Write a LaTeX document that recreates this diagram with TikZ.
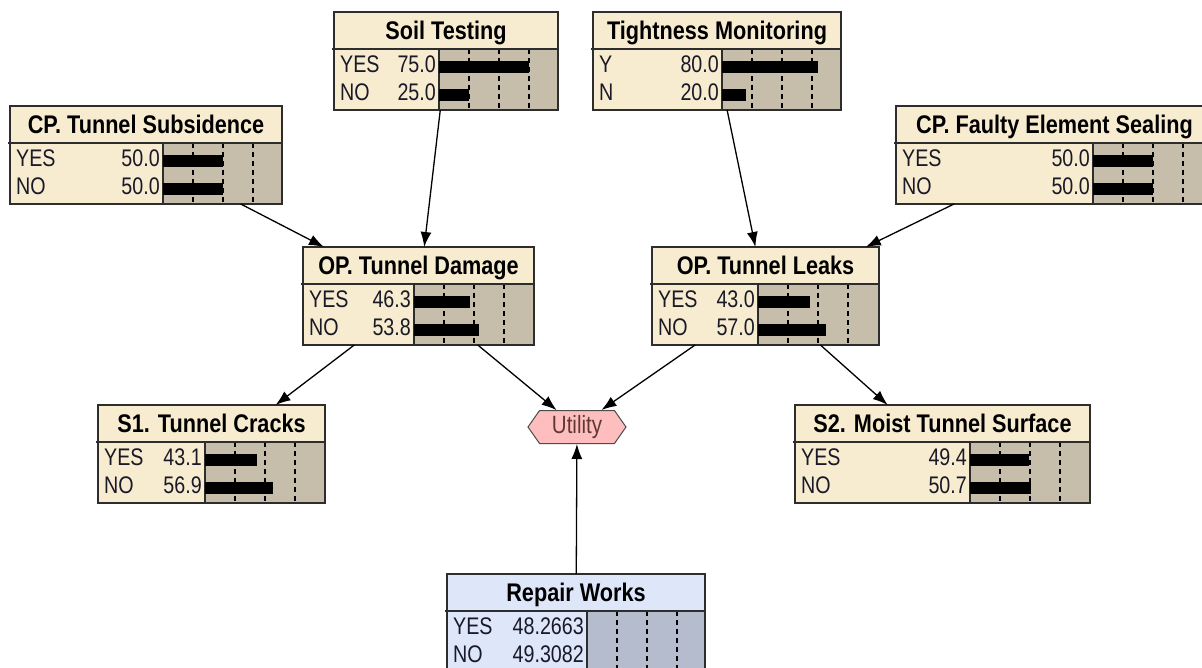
\documentclass[tikz,border=0pt]{standalone}
\usepackage{fontspec}
\setmainfont{Liberation Sans}[FakeStretch=0.82, BoldFeatures={FakeStretch=0.85}]
\usetikzlibrary{shapes.symbols,arrows.meta}
\definecolor{cream}{RGB}{248,236,208}
\definecolor{creambar}{RGB}{198,190,170}
\definecolor{paleblue}{RGB}{222,230,250}
\definecolor{palebluebar}{RGB}{180,188,205}
\definecolor{utilpink}{RGB}{255,190,190}
\definecolor{framegray}{RGB}{45,45,45}
\definecolor{textdark}{RGB}{25,25,40}
\definecolor{utiltext}{RGB}{95,55,55}
\tikzset{
  netbox/.style={rectangle, inner sep=0pt, outer sep=0pt},
  boxframe/.style={draw=framegray, line width=1.5pt},
  titletext/.style={font=\fontsize{25.5}{27}\selectfont\bfseries, text=black, inner sep=0pt, anchor=base},
  statetext/.style={font=\fontsize{24}{25}\selectfont, text=textdark, inner sep=0pt},
  dashline/.style={black, line width=1.4pt, dash pattern=on 5pt off 4pt},
  probbar/.style={fill=black},
  link/.style={draw=black, line width=1.3pt, -{Latex[length=15pt,width=11pt]}},
  utility/.style={shape=signal, signal to=west and east, signal pointer angle=110,
    fill=utilpink, draw=gray!60!black, line width=1pt, minimum width=98pt,
    minimum height=33pt, inner sep=0pt, font=\fontsize{25}{26}\selectfont, text=utiltext},
}
% name, L, T, R, barstart, title, fill, barfill
\newcommand\netnode[8]{%
  \node[netbox, fill=#7, minimum width={#4-#2}, minimum height=98, anchor=north west] (#1) at (#2,#3) {};
  \fill[#8] (#5,#3+37) rectangle (#4,#3+98);
  \foreach \k in {1,2,3} \draw[dashline] (#5+30*\k,#3+37) -- (#5+30*\k,#3+98);
  \draw[boxframe] (#5,#3+37) -- (#5,#3+98);
  \draw[boxframe] (#2-2,#3+37) -- (#4,#3+37);
  \node[titletext] (#1-title) at ({(#2+#4)/2},#3+27.5) {#6};
  \draw[boxframe] (#1.north west) rectangle (#1.south east);
}
% rowname, L, barstart, baseline, state, value
\newcommand\staterow[6]{%
  \node[statetext, anchor=base west] (#1-s) at (#2+6,#4) {#5};
  \node[statetext, anchor=base east] (#1-v) at (#3-3,#4) {#6};
}
% barstart, baseline, percent
\newcommand\pbar[3]{%
  \fill[probbar] (#1,#2-11) rectangle ({#1+1.2*#3},#2+1);
}
\begin{document}
\begin{tikzpicture}[x=1pt,y=-1pt]
\useasboundingbox (0,0) rectangle (1202,668);
\fill[white] (0,0) rectangle (1202,668);
\clip (0,0) rectangle (1202,668);

% Soil Testing
\netnode{soil}{334}{12}{558}{439}{Soil Testing}{cream}{creambar}
\staterow{soil-yes}{334}{439}{72.5}{YES}{75.0}\pbar{439}{72}{75}
\staterow{soil-no}{334}{439}{100.5}{NO}{25.0}\pbar{439}{100}{25}

% Tightness Monitoring
\netnode{tight}{593}{12}{841}{722}{Tightness Monitoring}{cream}{creambar}
\staterow{tight-y}{593}{722}{72.5}{Y}{80.0}\pbar{722}{72}{80}
\staterow{tight-n}{593}{722}{100.5}{N}{20.0}\pbar{722}{100}{20}

% CP. Tunnel Subsidence
\netnode{cpts}{10}{106}{282}{163}{CP. Tunnel Subsidence}{cream}{creambar}
\staterow{cpts-yes}{10}{163}{166.5}{YES}{50.0}\pbar{163}{166}{50}
\staterow{cpts-no}{10}{163}{194.5}{NO}{50.0}\pbar{163}{194}{50}

% CP. Faulty Element Sealing
\netnode{cpfes}{896}{106}{1213}{1093}{CP. Faulty Element Sealing}{cream}{creambar}
\staterow{cpfes-yes}{896}{1093}{166.5}{YES}{50.0}\pbar{1093}{166}{50}
\staterow{cpfes-no}{896}{1093}{194.5}{NO}{50.0}\pbar{1093}{194}{50}

% OP. Tunnel Damage
\netnode{optd}{303}{247}{534}{414}{OP. Tunnel Damage}{cream}{creambar}
\staterow{optd-yes}{303}{414}{307.5}{YES}{46.3}\pbar{414}{307}{46.3}
\staterow{optd-no}{303}{414}{335.5}{NO}{53.8}\pbar{414}{335}{53.8}

% OP. Tunnel Leaks
\netnode{optl}{652}{247}{879}{758}{OP. Tunnel Leaks}{cream}{creambar}
\staterow{optl-yes}{652}{758}{307.5}{YES}{43.0}\pbar{758}{307}{43.0}
\staterow{optl-no}{652}{758}{335.5}{NO}{57.0}\pbar{758}{335}{57.0}

% S1. Tunnel Cracks
\netnode{s1}{98}{405}{325}{205}{S1. Tunnel Cracks}{cream}{creambar}
\staterow{s1-yes}{98}{205}{465.5}{YES}{43.1}\pbar{205}{465}{43.1}
\staterow{s1-no}{98}{205}{493.5}{NO}{56.9}\pbar{205}{493}{56.9}

% S2. Moist Tunnel Surface
\netnode{s2}{795}{405}{1090}{970}{S2. Moist Tunnel Surface}{cream}{creambar}
\staterow{s2-yes}{795}{970}{465.5}{YES}{49.4}\pbar{970}{465}{49.4}
\staterow{s2-no}{795}{970}{493.5}{NO}{50.7}\pbar{970}{493}{50.7}

% Repair Works
\netnode{repair}{447}{574}{705}{587}{Repair Works}{paleblue}{palebluebar}
\staterow{repair-yes}{447}{587}{634.5}{YES}{48.2663}
\staterow{repair-no}{447}{587}{662.5}{NO}{49.3082}

% Utility
\node[utility] (util) at (577,427) {Utility};

% links
\draw[link] (cpts) -- (optd);
\draw[link] (soil) -- (optd);
\draw[link] (tight) -- (optl);
\draw[link] (cpfes) -- (optl);
\draw[link] (optd) -- (s1);
\draw[link] (optd) -- (util);
\draw[link] (optl) -- (util);
\draw[link] (optl) -- (s2);
\draw[link] (repair) -- (util);
\end{tikzpicture}
\end{document}
